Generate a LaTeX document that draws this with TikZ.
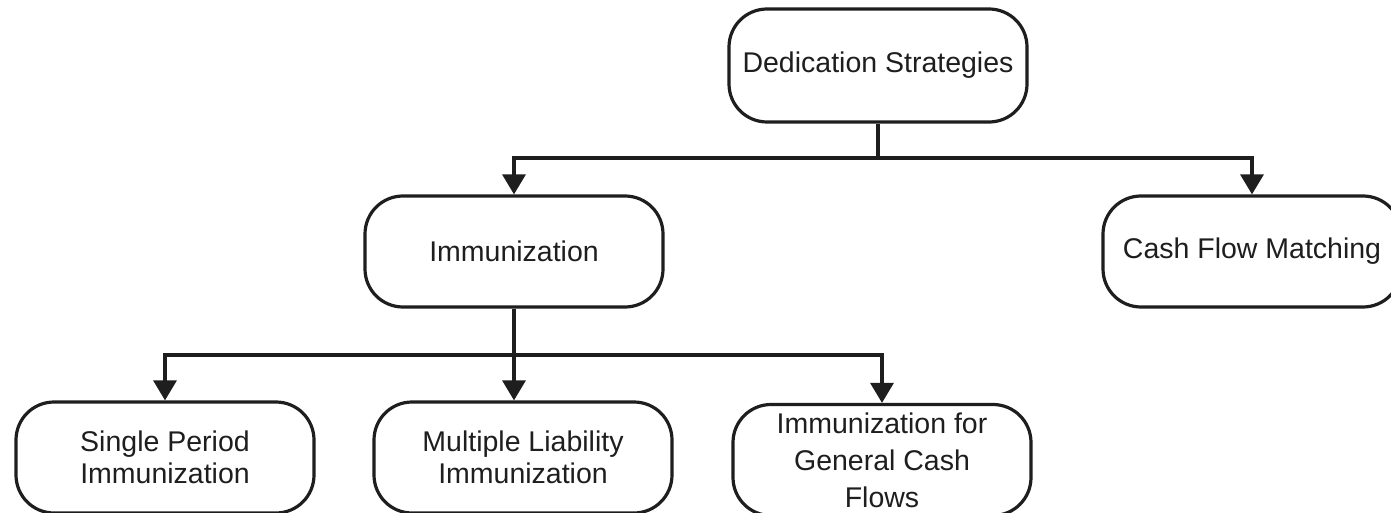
\documentclass[tikz,border=0pt]{standalone}
\usepackage{fontspec}
\setmainfont{Liberation Sans}
\usetikzlibrary{arrows.meta}
\definecolor{ink}{HTML}{1E1E1E}
\begin{document}
\begin{tikzpicture}[x=1pt,y=-1pt,
  box/.style={draw=ink, line width=3.2pt, rounded corners=38pt, minimum width=298pt,
    minimum height=111pt, inner sep=0pt, align=center, text=ink,
    font=\fontsize{28.5}{32}\selectfont},
  link/.style={draw=ink, line width=3.2pt},
  arr/.style={link, -{Triangle[length=20pt,width=23pt]}}]
\useasboundingbox[fill=white] (0,0) rectangle (1391,513);
\node[box, minimum height=113pt] (ded) at (878,65.5) {Dedication Strategies};
\node[box] (imm) at (514,251.5) {Immunization};
\node[box] (cfm) at (1252,251.5) {Cash Flow Matching};
\node[box] (sp) at (165,457.5) {Single Period\\Immunization};
\node[box] (ml) at (523,457.5) {Multiple Liability\\Immunization};
\node[box, font=\fontsize{28.5}{37}\selectfont] (gen) at (882,460) {Immunization for\\General Cash\\Flows};
\coordinate (j1) at (878,158);
\coordinate (j2) at (514,355);
\draw[link] (ded.south) -- (j1);
\draw[arr] (j1) -| (imm.north);
\draw[arr] (j1) -| (cfm.north);
\draw[arr] (imm.south) -- (ml.north -| imm.south);
\draw[arr] (j2) -| (sp.north);
\draw[arr] (j2) -| (gen.north);
\end{tikzpicture}
\end{document}
